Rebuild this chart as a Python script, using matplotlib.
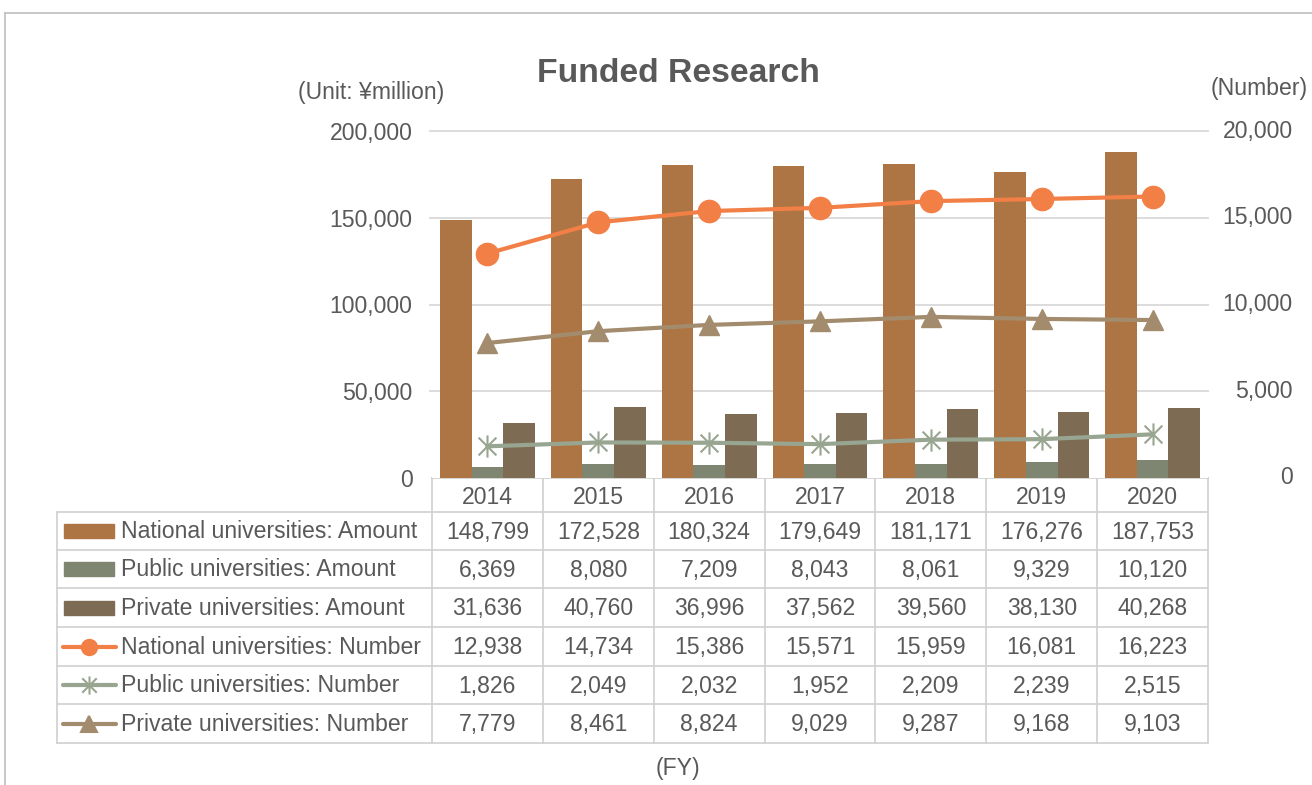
import numpy as np
import matplotlib.pyplot as plt
from matplotlib.path import Path
from matplotlib.patches import Rectangle
from matplotlib.lines import Line2D

plt.rcParams['font.family'] = ['Liberation Sans', 'DejaVu Sans']

# Data
years = ['2014', '2015', '2016', '2017', '2018', '2019', '2020']
national_amount = [148799, 172528, 180324, 179649, 181171, 176276, 187753]
public_amount = [6369, 8080, 7209, 8043, 8061, 9329, 10120]
private_amount = [31636, 40760, 36996, 37562, 39560, 38130, 40268]
national_number = [12938, 14734, 15386, 15571, 15959, 16081, 16223]
public_number = [1826, 2049, 2032, 1952, 2209, 2239, 2515]
private_number = [7779, 8461, 8824, 9029, 9287, 9168, 9103]

labels = ['National universities: Amount', 'Public universities: Amount',
          'Private universities: Amount', 'National universities: Number',
          'Public universities: Number', 'Private universities: Number']

c_nat_bar = '#AD7543'
c_pub_bar = '#7E8571'
c_pri_bar = '#7D6C53'
c_nat_line = '#F27F45'
c_pub_line = '#98A590'
c_pri_line = '#A38C6D'
txt = '#595959'
grid = '#D9D9D9'
fs = 16.6

# star marker like Excel (X + vertical bar)
star = Path([(0, -1), (0, 1), (-0.8, -0.8), (0.8, 0.8), (-0.8, 0.8), (0.8, -0.8)],
            [Path.MOVETO, Path.LINETO] * 3)

W, H = 1312, 785
fig = plt.figure(figsize=(W / 100, H / 100), dpi=100)

# pixel overlay for frame / table
ov = fig.add_axes([0, 0, 1, 1])
ov.set_xlim(0, W)
ov.set_ylim(H, 0)
ov.axis('off')

# main chart
x0, x1, ytop, ybot = 432, 1208, 131, 478
ax = fig.add_axes([x0 / W, 1 - ybot / H, (x1 - x0) / W, (ybot - ytop) / H])
ax.set_xlim(-0.5, 6.5)
ax.set_ylim(0, 200000)
ax2 = ax.twinx()
ax2.set_ylim(0, 20000)

x = np.arange(len(years))
bw = 0.285
ax.bar(x - bw, national_amount, bw, color=c_nat_bar, zorder=2)
ax.bar(x, public_amount, bw, color=c_pub_bar, zorder=2)
ax.bar(x + bw, private_amount, bw, color=c_pri_bar, zorder=2)

ax2.plot(x, national_number, color=c_nat_line, lw=3, marker='o', ms=16, zorder=3)
ax2.plot(x, public_number, color=c_pub_line, lw=3, marker=star, ms=16,
         mew=1.5, mec=c_pub_line, zorder=3)
ax2.plot(x, private_number, color=c_pri_line, lw=3, marker='^', ms=14, zorder=3)

for a in (ax, ax2):
    for s in a.spines.values():
        s.set_visible(False)
    a.set_xticks([])
    a.tick_params(length=0, labelsize=fs, labelcolor=txt)

ax.set_yticks(np.arange(0, 200001, 50000))
ax.set_yticklabels([f'{v:,}' for v in range(0, 200001, 50000)])
ax.tick_params(axis='y', pad=14)
ax2.set_yticks([])
for v in range(0, 20001, 5000):
    ax2.text(1.109, v, f'{v:,}', transform=ax2.get_yaxis_transform(), ha='right',
             va='center', fontsize=fs, color=txt)
for v in range(50000, 200001, 50000):
    ax.axhline(v, color=grid, lw=1.3, zorder=0, xmin=-0.003, xmax=1.0, clip_on=False)

# frame
ov.plot([5, W], [13, 13], color='#BFBFBF', lw=1.2)
ov.plot([5, 5], [13, H], color='#BFBFBF', lw=1.2)

# titles
ov.text(678, 73, 'Funded Research', ha='center', va='center', fontsize=24.3,
        fontweight='bold', color=txt)
ov.text(371, 93, '(Unit: \u00a5million)', ha='center', va='center', fontsize=fs, color=txt)
ov.text(1259, 88, '(Number)', ha='center', va='center', fontsize=fs, color=txt)
ov.text(678, 768, '(FY)', ha='center', va='center', fontsize=fs, color=txt)

# data table
col_w = (x1 - x0) / len(years)
tx0 = 57
rows_y = [512, 550, 588, 627, 666, 704, 743]
lc = '#D0D0D0'
ov.plot([x0, x1], [ybot, ybot], color=lc, lw=1.2)
for yy in rows_y:
    ov.plot([tx0, x1], [yy, yy], color=lc, lw=1.2)
ov.plot([tx0, tx0], [rows_y[0], rows_y[-1]], color=lc, lw=1.2)
for i in range(len(years) + 1):
    xx = x0 + i * col_w
    ov.plot([xx, xx], [ybot, rows_y[-1]], color=lc, lw=1.2)

for i, yr in enumerate(years):
    ov.text(x0 + (i + 0.5) * col_w, (ybot + rows_y[0]) / 2 + 2, yr, ha='center',
            va='center', fontsize=fs, color=txt)

series = [national_amount, public_amount, private_amount,
          national_number, public_number, private_number]
for r, (lab, vals) in enumerate(zip(labels, series)):
    yc = (rows_y[r] + rows_y[r + 1]) / 2 + 1
    ov.text(121, yc, lab, ha='left', va='center', fontsize=fs, color=txt)
    for i, v in enumerate(vals):
        ov.text(x0 + (i + 0.5) * col_w, yc, f'{v:,}', ha='center', va='center',
                fontsize=fs, color=txt)

# legend keys in table
for r, c in enumerate([c_nat_bar, c_pub_bar, c_pri_bar]):
    yc = (rows_y[r] + rows_y[r + 1]) / 2
    ov.add_patch(Rectangle((64, yc - 7), 50, 14, color=c))
keys = [(c_nat_line, 'o', 11), (c_pub_line, star, 13), (c_pri_line, '^', 11)]
for k, (c, m, ms) in enumerate(keys):
    r = 3 + k
    yc = (rows_y[r] + rows_y[r + 1]) / 2
    ov.add_line(Line2D([63, 116], [yc, yc], color=c, lw=3, solid_capstyle='round'))
    ov.add_line(Line2D([89], [yc], marker=m, ms=ms, color=c, mec=c, mew=1.5))

fig.savefig('out.png', dpi=100)
